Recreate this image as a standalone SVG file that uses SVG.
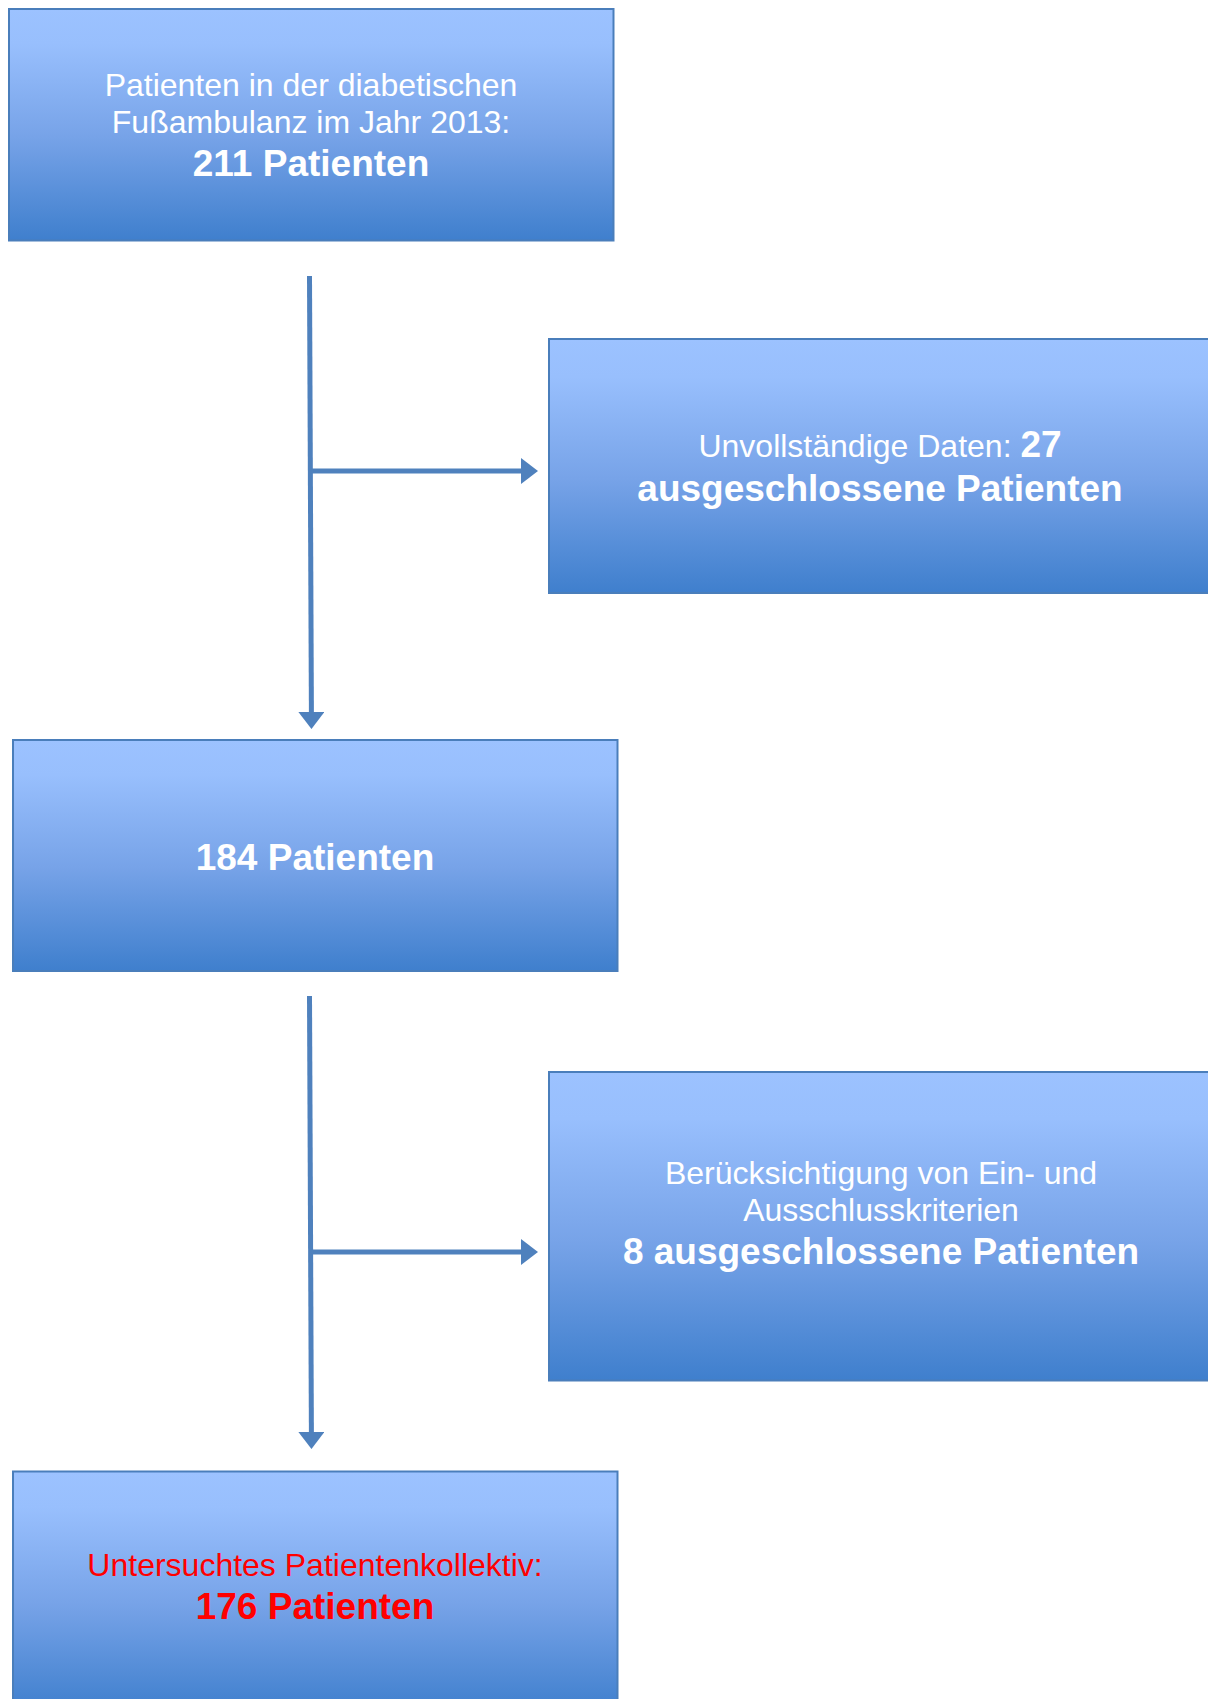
<svg xmlns="http://www.w3.org/2000/svg" width="1208" height="1699" viewBox="0 0 1208 1699">
<defs>
<linearGradient id="g" x1="0" y1="0" x2="0" y2="1">
<stop offset="0" stop-color="#9cc2ff"/>
<stop offset="0.15" stop-color="#98bffd"/>
<stop offset="0.55" stop-color="#77a3e8"/>
<stop offset="1" stop-color="#3f7fcd"/>
</linearGradient>
<marker id="ah" viewBox="0 0 17 26" refX="1" refY="13" markerWidth="17" markerHeight="26" markerUnits="userSpaceOnUse" orient="auto">
<path d="M0,0 L17,13 L0,26 Z" fill="#4f81bd"/>
</marker>
</defs>
<style>
.box{fill:url(#g);stroke:#4a7ebb;stroke-width:2}
.t{font-family:"Liberation Sans",Arial,sans-serif;fill:#ffffff;text-anchor:middle}
.r{font-size:32px}
.b{font-size:37px;font-weight:bold}
.red{fill:#ff0000}
.c{stroke:#4f81bd;stroke-width:5;fill:none}
</style>
<rect width="1208" height="1699" fill="#ffffff"/>
<g id="connectors">
<line class="c" x1="309.5" y1="276" x2="311.4" y2="713" marker-end="url(#ah)"/>
<line class="c" x1="311" y1="471" x2="522" y2="471" marker-end="url(#ah)"/>
<line class="c" x1="309.5" y1="996" x2="311.4" y2="1433" marker-end="url(#ah)"/>
<line class="c" x1="311" y1="1252" x2="522" y2="1252" marker-end="url(#ah)"/>
</g>
<g id="n1">
<rect class="box" x="9" y="9" width="604.5" height="231.5"/>
<text class="t r" x="311" y="95.5">Patienten in der diabetischen</text>
<text class="t r" x="311" y="132.5">Fußambulanz im Jahr 2013:</text>
<text class="t b" x="311" y="176">211 Patienten</text>
</g>
<g id="n2">
<rect class="box" x="549" y="339" width="670" height="254"/>
<text class="t" x="880" y="457"><tspan class="r">Unvollständige Daten: </tspan><tspan class="b">27</tspan></text>
<text class="t b" x="880" y="501">ausgeschlossene Patienten</text>
</g>
<g id="n3">
<rect class="box" x="13" y="740" width="604.5" height="231"/>
<text class="t b" x="315" y="870">184 Patienten</text>
</g>
<g id="n4">
<rect class="box" x="549" y="1072" width="670" height="308.5"/>
<text class="t r" x="881" y="1184">Berücksichtigung von Ein- und</text>
<text class="t r" x="881" y="1221">Ausschlusskriterien</text>
<text class="t b" x="881" y="1264">8 ausgeschlossene Patienten</text>
</g>
<g id="n5">
<rect class="box" x="13" y="1471.5" width="604.5" height="240"/>
<text class="t r red" x="315" y="1576">Untersuchtes Patientenkollektiv:</text>
<text class="t b red" x="315" y="1619">176 Patienten</text>
</g>
</svg>
